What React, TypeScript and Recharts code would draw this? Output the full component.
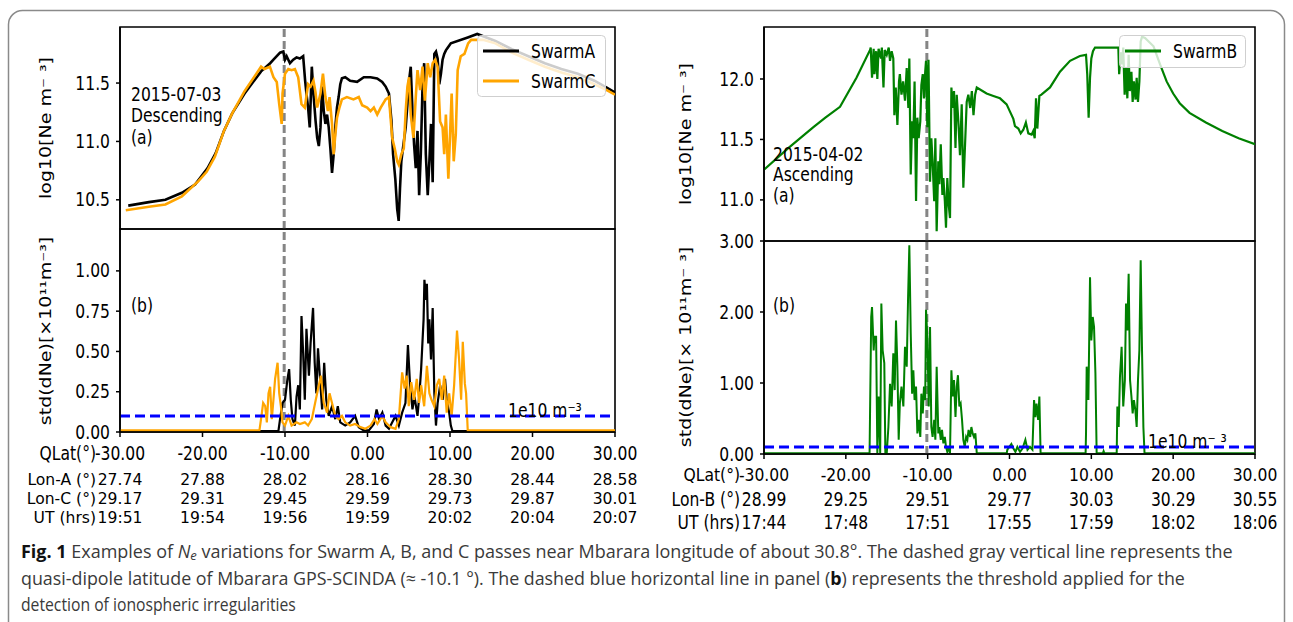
import React, { useLayoutEffect, useRef, useState } from 'react';
import { LineChart, Line, XAxis, YAxis, ReferenceLine, ReferenceArea, Legend } from 'recharts';

const W = 1293;
const H = 622;
const SX = 0.82; // the figure is squeezed horizontally
const FONT = "'DejaVu Sans', sans-serif";
const CAP_FONT = "'Open Sans', 'Noto Sans', sans-serif";

// quasi-dipole latitude of Mbarara (dashed gray line)
const MBARARA_QLAT = -10.1;
const THRESHOLD = 0.1;

// ---- panel (a), 2015-07-03 : [QLat, log10 Ne] ----
const swarmANe: [number, number][] = [
  [-29.0, 10.45], [-26.5, 10.48], [-24.5, 10.5], [-22.5, 10.56], [-20.9, 10.63], [-19.4, 10.77], [-18.4, 10.9],
  [-17.4, 11.09], [-16.4, 11.24], [-14.9, 11.41], [-12.9, 11.6], [-11.8, 11.67], [-11.4, 11.7], [-10.6, 11.76],
  [-10.2, 11.77], [-10.0, 11.7], [-9.8, 11.73], [-9.4, 11.67], [-9.0, 11.7], [-8.6, 11.72], [-8.2, 11.71],
  [-7.8, 11.73], [-7.56, 11.52], [-7.4, 11.41], [-7.2, 11.29], [-7.0, 11.12], [-6.75, 11.64], [-6.55, 11.41],
  [-6.3, 11.18], [-6.1, 11.03], [-5.9, 10.96], [-5.7, 11.12], [-5.5, 11.47], [-5.3, 11.26], [-5.1, 11.15],
  [-4.9, 11.23], [-4.7, 11.12], [-4.5, 10.94], [-4.3, 10.73], [-4.1, 10.89], [-3.9, 11.12], [-3.7, 11.29],
  [-3.5, 11.38], [-3.3, 11.49], [-3.1, 11.54], [-2.7, 11.55], [-2.1, 11.52], [-1.26, 11.51], [-0.45, 11.55],
  [0.36, 11.55], [1.17, 11.54], [1.78, 11.51], [2.2, 11.47], [2.6, 11.41], [2.9, 11.18], [3.1, 10.89],
  [3.37, 10.68], [3.6, 10.42], [3.78, 10.32], [3.94, 10.6], [4.1, 10.83], [4.35, 10.97], [4.63, 11.12],
  [4.84, 11.32], [5.04, 11.52], [5.24, 11.64], [5.45, 11.26], [5.65, 10.97], [5.85, 10.77], [6.06, 11.09],
  [6.26, 10.54], [6.46, 10.89], [6.67, 11.47], [6.87, 11.67], [7.07, 10.89], [7.3, 10.54], [7.5, 10.83],
  [7.7, 11.15], [7.9, 10.65], [8.1, 11.75], [8.3, 11.77], [8.5, 11.71], [8.7, 11.49], [8.9, 11.58],
  [9.1, 11.7], [9.3, 11.75], [9.5, 11.78], [9.7, 11.8], [10.1, 11.84], [12.15, 11.89], [13.3, 11.92],
  [15.5, 11.86], [17.5, 11.79], [19.5, 11.73], [21.5, 11.67], [23.5, 11.62], [25.5, 11.58], [27.5, 11.52],
  [29.0, 11.46], [30.0, 11.42],
];

const swarmCNe: [number, number][] = [
  [-29.3, 10.41], [-26.5, 10.44], [-24.5, 10.46], [-22.5, 10.53], [-20.5, 10.66], [-19.5, 10.74], [-18.5, 10.87],
  [-17.4, 11.09], [-16.4, 11.24], [-14.9, 11.43], [-12.9, 11.64], [-12.5, 11.62], [-11.83, 11.64], [-11.4, 11.55],
  [-11.0, 11.51], [-10.7, 11.32], [-10.4, 11.15], [-10.3, 11.41], [-10.0, 11.58], [-9.6, 11.62], [-9.2, 11.61],
  [-8.8, 11.62], [-8.4, 11.55], [-8.0, 11.32], [-7.6, 11.29], [-7.2, 11.49], [-6.9, 11.47], [-6.55, 11.52],
  [-6.3, 11.42], [-6.1, 11.29], [-5.7, 11.41], [-5.4, 11.58], [-5.1, 11.38], [-4.8, 11.26], [-4.6, 11.38],
  [-4.3, 11.15], [-4.1, 10.89], [-3.9, 11.06], [-3.7, 11.2], [-3.4, 11.29], [-3.1, 11.36], [-2.5, 11.38],
  [-1.7, 11.36], [-1.06, 11.38], [-0.65, 11.31], [-0.04, 11.29], [0.37, 11.26], [0.77, 11.29], [1.18, 11.23],
  [1.6, 11.29], [2.2, 11.36], [2.6, 11.38], [2.8, 11.2], [3.0, 11.03], [3.3, 10.94], [3.6, 10.83],
  [3.8, 10.8], [4.1, 10.89], [4.4, 10.94], [4.63, 11.26], [4.84, 11.47], [5.04, 11.55], [5.24, 11.23],
  [5.57, 11.03], [5.85, 11.38], [6.06, 11.61], [6.38, 11.44], [6.67, 11.64], [6.95, 11.35], [7.3, 11.67],
  [7.6, 11.55], [7.9, 11.67], [8.2, 11.7], [8.5, 11.64], [8.8, 11.17], [9.1, 11.12], [9.3, 10.89],
  [9.5, 11.23], [9.8, 10.68], [10.04, 11.12], [10.2, 11.41], [10.45, 10.83], [10.7, 11.06], [10.93, 11.61],
  [11.3, 11.73], [11.75, 11.75], [12.2, 11.84], [12.56, 11.87], [14.0, 11.87], [15.5, 11.84], [17.5, 11.76],
  [19.5, 11.7], [21.5, 11.64], [23.5, 11.59], [25.5, 11.55], [27.5, 11.49], [29.0, 11.44], [30.0, 11.4],
];

// ---- panel (b), 2015-07-03 : [QLat, std(dNe) x1e11] ----
const swarmAStd: [number, number][] = [
  [-30, 0.005], [-10.8, 0.005], [-10.6, 0.08], [-10.3, 0.18], [-10.0, 0.2], [-9.7, 0.33], [-9.5, 0.39],
  [-9.3, 0.2], [-9.1, 0.08], [-8.8, 0.04], [-8.6, 0.22], [-8.4, 0.29], [-8.2, 0.14], [-8.0, 0.72],
  [-7.8, 0.49], [-7.6, 0.2], [-7.4, 0.64], [-7.1, 0.35], [-6.9, 0.55], [-6.6, 0.77], [-6.4, 0.43],
  [-6.2, 0.24], [-6.0, 0.52], [-5.7, 0.29], [-5.5, 0.14], [-5.25, 0.43], [-5.0, 0.2], [-4.7, 0.1],
  [-4.3, 0.16], [-3.9, 0.08], [-3.6, 0.16], [-3.3, 0.06], [-2.7, 0.04], [-2.1, 0.06], [-1.5, 0.1],
  [-1.06, 0.03], [-0.45, 0.01], [0.16, 0.01], [0.77, 0.05], [1.1, 0.14], [1.4, 0.08], [1.8, 0.12],
  [2.2, 0.04], [2.6, 0.02], [3.0, 0.06], [3.4, 0.1], [3.8, 0.04], [4.2, 0.12], [4.6, 0.18],
  [4.9, 0.54], [5.16, 0.29], [5.45, 0.14], [5.7, 0.22], [6.06, 0.1], [6.3, 0.24], [6.5, 0.39],
  [6.8, 0.7], [6.9, 0.945], [7.07, 0.82], [7.2, 0.92], [7.36, 0.55], [7.5, 0.7], [7.7, 0.45],
  [7.9, 0.77], [8.1, 0.24], [8.3, 0.04], [8.5, 0.18], [8.8, 0.29], [9.1, 0.2], [9.4, 0.33],
  [9.6, 0.2], [9.9, 0.12], [10.1, 0.04], [10.3, 0.005], [30, 0.005],
];

const swarmCStd: [number, number][] = [
  [-30, 0.01], [-13.1, 0.01], [-12.85, 0.1], [-12.65, 0.18], [-12.4, 0.16], [-12.2, 0.06], [-12.0, 0.24],
  [-11.8, 0.28], [-11.6, 0.08], [-11.4, 0.2], [-11.2, 0.33], [-10.9, 0.43], [-10.7, 0.24], [-10.5, 0.16],
  [-10.3, 0.06], [-10.0, 0.04], [-9.6, 0.1], [-9.2, 0.04], [-8.6, 0.06], [-8.2, 0.05], [-7.6, 0.06],
  [-7.2, 0.04], [-6.75, 0.08], [-6.35, 0.18], [-5.9, 0.29], [-5.65, 0.35], [-5.3, 0.18], [-4.9, 0.12],
  [-4.6, 0.24], [-4.3, 0.18], [-3.9, 0.1], [-3.5, 0.08], [-3.1, 0.1], [-2.7, 0.06], [-2.1, 0.04],
  [-1.5, 0.05], [-0.85, 0.03], [-0.25, 0.02], [0.36, 0.04], [0.85, 0.08], [1.2, 0.05], [1.8, 0.1],
  [2.2, 0.06], [2.8, 0.03], [3.4, 0.02], [3.8, 0.08], [4.2, 0.37], [4.5, 0.27], [4.75, 0.35],
  [5.0, 0.16], [5.3, 0.31], [5.65, 0.2], [5.97, 0.33], [6.26, 0.18], [6.5, 0.29], [6.87, 0.16],
  [7.2, 0.41], [7.5, 0.24], [7.76, 0.2], [8.1, 0.16], [8.4, 0.29], [8.7, 0.33], [9.0, 0.2],
  [9.3, 0.35], [9.6, 0.12], [9.9, 0.24], [10.2, 0.1], [10.5, 0.29], [10.85, 0.63], [11.1, 0.45],
  [11.35, 0.2], [11.55, 0.56], [11.8, 0.3], [11.95, 0.24], [12.15, 0.01], [30, 0.01],
];

// ---- panel (a), 2015-04-02 : [QLat, log10 Ne] ----
const swarmBNe: [number, number][] = [
  [-30, 11.25], [-27, 11.43], [-24, 11.6], [-22.5, 11.68], [-20.71, 11.77], [-18.7, 12.01], [-17.04, 12.24],
  [-16.96, 12.26], [-16.8, 12.01], [-16.6, 12.25], [-16.5, 12.04], [-16.3, 12.23], [-16.15, 12.0], [-16.0, 12.25],
  [-15.7, 12.17], [-15.6, 12.26], [-15.4, 11.93], [-15.25, 12.24], [-15.0, 12.2], [-14.76, 12.26], [-14.6, 12.15],
  [-14.4, 12.23], [-14.2, 12.17], [-14.07, 11.7], [-13.9, 11.93], [-13.7, 11.62], [-13.5, 11.98], [-13.4, 12.04],
  [-13.2, 11.87], [-13.0, 11.98], [-12.77, 11.82], [-12.56, 12.09], [-12.36, 11.76], [-12.24, 12.17], [-12.07, 11.21],
  [-11.9, 11.65], [-11.75, 11.51], [-11.6, 11.98], [-11.42, 10.99], [-11.26, 11.68], [-11.1, 11.51], [-10.9, 11.65],
  [-10.77, 11.95], [-10.6, 12.04], [-10.45, 11.84], [-10.3, 12.06], [-10.2, 12.15], [-10.04, 11.6], [-9.9, 12.16],
  [-9.71, 11.15], [-9.55, 11.51], [-9.4, 11.32], [-9.2, 10.99], [-9.06, 11.51], [-8.9, 10.74], [-8.7, 11.32],
  [-8.57, 11.13], [-8.4, 11.46], [-8.2, 11.04], [-8.08, 11.18], [-7.9, 10.99], [-7.76, 10.77], [-7.6, 11.18],
  [-7.43, 10.96], [-7.27, 10.85], [-7.1, 11.93], [-6.94, 11.76], [-6.78, 11.9], [-6.6, 11.43], [-6.45, 11.87],
  [-6.25, 11.65], [-6.05, 11.37], [-5.84, 11.79], [-5.64, 11.1], [-5.43, 11.46], [-5.23, 11.81], [-5.03, 11.87],
  [-4.8, 11.76], [-4.6, 11.9], [-4.4, 11.7], [-4.2, 11.87], [-4.0, 11.93], [-2.8, 11.88], [-1.97, 11.86],
  [-1.16, 11.84], [-0.35, 11.79], [0.06, 11.73], [0.47, 11.67], [0.67, 11.61], [1.08, 11.59], [1.37, 11.55],
  [1.69, 11.58], [2.0, 11.64], [2.3, 11.55], [2.7, 11.54], [2.9, 11.57], [3.08, 11.51], [3.24, 11.84],
  [3.4, 11.59], [3.65, 11.86], [3.9, 11.87], [4.95, 11.93], [6.17, 12.06], [7.4, 12.15], [8.6, 12.19],
  [9.35, 12.2], [9.5, 12.04], [9.67, 11.68], [9.84, 12.01], [10.0, 12.17], [10.2, 12.23], [10.45, 12.26],
  [11.06, 12.26], [11.87, 12.26], [13.3, 12.26], [13.4, 12.04], [13.6, 12.22], [13.75, 12.12], [13.9, 12.26],
  [14.07, 11.87], [14.24, 12.09], [14.4, 11.84], [14.56, 12.2], [14.7, 11.9], [14.9, 12.06], [15.05, 11.81],
  [15.2, 11.98], [15.4, 11.83], [15.54, 12.01], [15.7, 11.81], [15.87, 11.98], [16.03, 12.31], [16.2, 12.35],
  [16.56, 12.34], [17.6, 12.27], [18.4, 12.12], [19.2, 11.98], [20.0, 11.88], [20.8, 11.8], [22, 11.72],
  [24, 11.64], [26, 11.57], [28, 11.51], [30, 11.46],
];

// ---- panel (b), 2015-04-02 : [QLat, std(dNe) x1e11] ----
const swarmBStd: [number, number][] = [
  [-30, 0.01], [-17.1, 0.01], [-16.9, 1.93], [-16.8, 2.07], [-16.6, 1.46], [-16.5, 1.65], [-16.3, 1.65],
  [-16.15, 0.01], [-16.0, 0.81], [-15.8, 0.01], [-15.66, 2.12], [-15.5, 1.46], [-15.3, 1.28], [-15.17, 0.01],
  [-15.0, 0.01], [-14.8, 0.38], [-14.6, 0.99], [-14.4, 0.67], [-14.2, 1.42], [-14.03, 0.9], [-13.87, 1.88],
  [-13.7, 1.23], [-13.54, 0.2], [-13.4, 0.71], [-13.2, 0.95], [-12.97, 0.67], [-12.77, 1.51], [-12.56, 1.23],
  [-12.4, 2.17], [-12.24, 2.94], [-12.07, 1.7], [-11.9, 0.85], [-11.75, 1.18], [-11.6, 0.76], [-11.42, 0.95],
  [-11.26, 0.29], [-11.1, 0.48], [-10.9, 0.24], [-10.77, 0.85], [-10.6, 0.57], [-10.45, 0.95], [-10.3, 0.76],
  [-10.2, 2.03], [-10.04, 1.65], [-9.87, 0.67], [-9.71, 1.79], [-9.55, 0.38], [-9.4, 0.24], [-9.2, 0.48],
  [-9.06, 0.2], [-8.9, 1.23], [-8.7, 0.29], [-8.57, 0.38], [-8.4, 0.2], [-8.25, 0.34], [-8.08, 0.15],
  [-7.9, 0.24], [-7.76, 0.1], [-7.6, 0.03], [-7.43, 0.1], [-7.27, 0.01], [-7.1, 1.18], [-6.94, 0.81],
  [-6.78, 1.04], [-6.6, 0.52], [-6.45, 0.95], [-6.3, 1.11], [-6.13, 0.67], [-5.97, 0.71], [-5.8, 0.48],
  [-5.64, 0.2], [-5.47, 0.1], [-5.3, 0.24], [-5.15, 0.2], [-5.0, 0.34], [-4.8, 0.24], [-4.66, 0.38],
  [-4.5, 0.29], [-4.34, 0.24], [-4.17, 0.29], [-4.0, 0.01], [-0.34, 0.01], [-0.26, 0.06], [-0.02, 0.1],
  [0.23, 0.14], [0.47, 0.08], [0.72, 0.03], [0.96, 0.1], [1.29, 0.03], [1.6, 0.08], [1.94, 0.2],
  [2.2, 0.06], [2.5, 0.1], [2.8, 0.06], [3.0, 0.76], [3.16, 0.52], [3.3, 0.71], [3.5, 0.48],
  [3.65, 0.81], [3.8, 0.01], [9.3, 0.01], [9.35, 0.29], [9.43, 1.23], [9.64, 0.76], [9.84, 2.49],
  [10.0, 1.6], [10.17, 1.93], [10.33, 1.79], [10.5, 1.13], [10.65, 0.01], [11.4, 0.01], [11.5, 0.04],
  [11.6, 0.01], [13.1, 0.01], [13.18, 0.67], [13.34, 0.38], [13.5, 1.09], [13.7, 1.51], [13.9, 0.67],
  [14.1, 1.04], [14.24, 2.12], [14.4, 1.74], [14.56, 2.54], [14.73, 1.04], [14.9, 0.81], [15.05, 0.57],
  [15.2, 0.76], [15.38, 0.62], [15.54, 0.38], [15.7, 1.04], [15.87, 1.46], [16.03, 2.73], [16.2, 1.42],
  [16.36, 0.38], [16.5, 0.01], [30, 0.01],
];

// ---- axis tick labels ----
const qlatTicks = [-30, -20, -10, 0, 10, 20, 30];
const lonA = ['27.74', '27.88', '28.02', '28.16', '28.30', '28.44', '28.58'];
const lonC = ['29.17', '29.31', '29.45', '29.59', '29.73', '29.87', '30.01'];
const utAC = ['19:51', '19:54', '19:56', '19:59', '20:02', '20:04', '20:07'];
const lonB = ['28.99', '29.25', '29.51', '29.77', '30.03', '30.29', '30.55'];
const utB = ['17:44', '17:48', '17:51', '17:55', '17:59', '18:02', '18:06'];

const neTicksL = [10.5, 11.0, 11.5];
const stdTicksL = [0, 0.25, 0.5, 0.75, 1.0];
const neTicksR = [11.0, 11.5, 12.0];
const stdTicksR = [0, 1, 2, 3];

const toRows = (pts: [number, number][]) => pts.map(([lat, v]) => ({ lat, v }));

// horizontal text, squeezed like the original figure (width kept as at 19px)
const SText = ({ x, y, anchor = 'start', size = 19, fill = '#000', children }: any) => (
  <text
    transform={`translate(${x},${y}) scale(${(SX * 19) / size},1)`}
    textAnchor={anchor}
    dominantBaseline="central"
    fontSize={size}
    fontFamily={FONT}
    fill={fill}
  >
    {children}
  </text>
);

const VText = ({ x, y, children }: any) => (
  <text
    transform={`translate(${x},${y}) rotate(-90) scale(1,${SX})`}
    textAnchor="middle"
    dominantBaseline="central"
    fontSize={19}
    fontFamily={FONT}
    fill="#000"
  >
    {children}
  </text>
);

// caption line stretched/squeezed as a whole to a given width
const FitText = ({ x, y, width, children }: any) => {
  const ref = useRef<SVGTextElement>(null);
  const [k, setK] = useState(1);
  useLayoutEffect(() => {
    if (ref.current) {
      const w = ref.current.getComputedTextLength();
      if (w > 0) setK(width / w);
    }
  }, [width]);
  return (
    <text ref={ref} transform={`translate(${x},${y}) scale(${k},1)`} dominantBaseline="central">
      {children}
    </text>
  );
};

interface XRow { label: string; values: string[]; dy: number; size: number }

const XTick = ({ x, y, index, rows }: any) => {
  const axisY = y - 5;
  return (
    <g>
      {rows.map((r: XRow, i: number) => (
        <g key={i}>
          <SText x={x} y={axisY + r.dy} size={r.size} anchor="middle">{r.values[index]}</SText>
          {index === 0 && (
            <SText x={x - 24} y={axisY + r.dy} size={r.size} anchor="end">{r.label}</SText>
          )}
        </g>
      ))}
    </g>
  );
};

const YTick = ({ x, y, payload, digits }: any) => (
  <SText x={x} y={y} anchor="end">{Number(payload.value).toFixed(digits)}</SText>
);

const LegendBox = ({ payload, w, h }: any) => (
  <svg width={w} height={h} style={{ display: 'block' }}>
    <rect x={0.5} y={0.5} width={w - 1} height={h - 1} rx={4} fill="#fff" fillOpacity={0.8} stroke="#cfcfcf" />
    {(payload || []).map((p: any, i: number) => (
      <g key={i}>
        <line x1={6} x2={42} y1={16 + i * 30} y2={16 + i * 30} stroke={p.color} strokeWidth={3} />
        <SText x={54} y={16 + i * 30}>{p.value}</SText>
      </g>
    ))}
  </svg>
);

interface Series { name: string; color: string; data: [number, number][]; width: number }

interface PanelProps {
  box: { left: number; top: number; right: number; bottom: number };
  yDomain: [number, number];
  yTicks: number[];
  digits: number;
  series: Series[];
  xRows?: XRow[];
  legend?: { left: number; top: number; w: number; h: number };
  threshold?: boolean;
}

const Panel = ({ box, yDomain, yTicks, digits, series, xRows, legend, threshold }: PanelProps) => {
  const YW = 60;
  const XH = xRows ? 100 : 0;
  const margin = { top: box.top, left: box.left - YW, right: W - box.right, bottom: H - box.bottom - XH };
  return (
    <div style={{ position: 'absolute', left: 0, top: 0 }}>
      <LineChart width={W} height={H} margin={margin}>
        <XAxis
          type="number"
          dataKey="lat"
          domain={[-30, 30]}
          ticks={qlatTicks}
          interval={0}
          allowDataOverflow
          hide={!xRows}
          height={XH}
          axisLine={{ stroke: '#000', strokeWidth: 1.6 }}
          tickLine={{ stroke: '#000', strokeWidth: 1.5 }}
          tickSize={5}
          tickMargin={0}
          tick={(p: any) => <XTick {...p} rows={xRows} />}
        />
        <YAxis
          type="number"
          domain={yDomain}
          ticks={yTicks}
          interval={0}
          allowDataOverflow
          width={YW}
          axisLine={{ stroke: '#000', strokeWidth: 1.6 }}
          tickLine={{ stroke: '#000', strokeWidth: 1.5 }}
          tickSize={4}
          tickMargin={6}
          tick={(p: any) => <YTick {...p} digits={digits} />}
        />
        <ReferenceLine x={MBARARA_QLAT} stroke="#858585" strokeWidth={3} strokeDasharray="8 4" />
        {series.map((s) => (
          <Line
            key={s.name}
            data={toRows(s.data)}
            dataKey="v"
            name={s.name}
            type="linear"
            stroke={s.color}
            strokeWidth={s.width}
            dot={false}
            activeDot={false}
            isAnimationActive={false}
          />
        ))}
        {threshold && (
          <ReferenceLine y={THRESHOLD} stroke="#0000ff" strokeWidth={3} strokeDasharray="10 5" />
        )}
        <ReferenceArea
          x1={-30}
          x2={30}
          y1={yDomain[0]}
          y2={yDomain[1]}
          fill="none"
          fillOpacity={0}
          stroke="#000"
          strokeWidth={1.6}
        />
        {legend && (
          <Legend
            layout="vertical"
            align="center"
            verticalAlign="middle"
            wrapperStyle={{ left: legend.left, top: legend.top, right: 'auto', bottom: 'auto', width: legend.w, height: legend.h }}
            content={(p: any) => <LegendBox payload={p.payload} w={legend.w} h={legend.h} />}
          />
        )}
      </LineChart>
    </div>
  );
};

const leftRows: XRow[] = [
  { label: 'QLat(°)', values: qlatTicks.map((t) => t.toFixed(2)), dy: 21, size: 19 },
  { label: 'Lon-A (°)', values: lonA, dy: 47, size: 16 },
  { label: 'Lon-C (°)', values: lonC, dy: 66, size: 16 },
  { label: 'UT (hrs)', values: utAC, dy: 85, size: 16 },
];

const rightRows: XRow[] = [
  { label: 'QLat(°)', values: qlatTicks.map((t) => t.toFixed(2)), dy: 21, size: 17 },
  { label: 'Lon-B (°)', values: lonB, dy: 45, size: 19 },
  { label: 'UT (hrs)', values: utB, dy: 68, size: 19 },
];

export default function App() {
  return (
    <div style={{ position: 'absolute', left: 0, top: 0, width: W, height: H, overflow: 'hidden', background: '#fff' }}>
      {/* Swarm A / C, 2015-07-03 */}
      <Panel
        box={{ left: 120, top: 27, right: 615, bottom: 229 }}
        yDomain={[10.25, 11.98]}
        yTicks={neTicksL}
        digits={1}
        series={[
          { name: 'SwarmA', color: '#000000', data: swarmANe, width: 2.6 },
          { name: 'SwarmC', color: '#ffa500', data: swarmCNe, width: 2.6 },
        ]}
        legend={{ left: 477, top: 35, w: 129, h: 62 }}
      />
      <Panel
        box={{ left: 120, top: 229, right: 615, bottom: 432 }}
        yDomain={[0, 1.26]}
        yTicks={stdTicksL}
        digits={2}
        series={[
          { name: 'SwarmA', color: '#000000', data: swarmAStd, width: 2.2 },
          { name: 'SwarmC', color: '#ffa500', data: swarmCStd, width: 2.2 },
        ]}
        xRows={leftRows}
        threshold
      />
      {/* Swarm B, 2015-04-02 */}
      <Panel
        box={{ left: 764, top: 27, right: 1255, bottom: 241 }}
        yDomain={[10.66, 12.43]}
        yTicks={neTicksR}
        digits={1}
        series={[{ name: 'SwarmB', color: '#008000', data: swarmBNe, width: 2.2 }]}
        legend={{ left: 1119, top: 35, w: 127, h: 33 }}
      />
      <Panel
        box={{ left: 764, top: 241, right: 1255, bottom: 454 }}
        yDomain={[0, 3]}
        yTicks={stdTicksR}
        digits={2}
        series={[{ name: 'SwarmB', color: '#008000', data: swarmBStd, width: 2.0 }]}
        xRows={rightRows}
        threshold
      />

      <svg width={W} height={H} style={{ position: 'absolute', left: 0, top: 0, pointerEvents: 'none' }}>
        <rect x={8.5} y={10.5} width={1276} height={660} rx={14} fill="none" stroke="#8a8a8a" strokeWidth={1.5} />

        <VText x={46} y={128}>log10[Ne m⁻ ³]</VText>
        <VText x={46} y={331}>std(dNe)[×10¹¹m⁻³]</VText>
        <VText x={686} y={134}>log10[Ne m⁻ ³]</VText>
        <VText x={686} y={347}>std(dNe)[× 10¹¹m⁻ ³]</VText>

        <SText x={131} y={94}>2015-07-03</SText>
        <SText x={131} y={115}>Descending</SText>
        <SText x={131} y={137}>(a)</SText>
        <SText x={131} y={305}>(b)</SText>
        <SText x={508} y={410}>1e10 m⁻³</SText>

        <SText x={773} y={154}>2015-04-02</SText>
        <SText x={773} y={174}>Ascending</SText>
        <SText x={773} y={195}>(a)</SText>
        <SText x={773} y={305}>(b)</SText>
        <SText x={1148} y={441}>1e10 m⁻ ³</SText>

        <g fontFamily={CAP_FONT} fontSize={18} fill="#3a3a3a" style={{ whiteSpace: 'pre' }}>
          <FitText x={21} y={551} width={1212}>
            <tspan fontWeight="bold" fill="#111">Fig. 1</tspan>
            <tspan>{'  Examples of '}</tspan>
            <tspan fontStyle="italic">N</tspan>
            <tspan fontStyle="italic" fontSize={13} dy={4}>e</tspan>
            <tspan dy={-4}>{' variations for Swarm A, B, and C passes near Mbarara longitude of about 30.8°. The dashed gray vertical line represents the'}</tspan>
          </FitText>
          <FitText x={21} y={578} width={1165}>
            <tspan>{'quasi-dipole latitude of Mbarara GPS-SCINDA (≈ -10.1 °). The dashed blue horizontal line in panel ('}</tspan>
            <tspan fontWeight="bold" fill="#111">b</tspan>
            <tspan>{') represents the threshold applied for the'}</tspan>
          </FitText>
          <FitText x={21} y={604} width={275}>
            detection of ionospheric irregularities
          </FitText>
        </g>
      </svg>
    </div>
  );
}
